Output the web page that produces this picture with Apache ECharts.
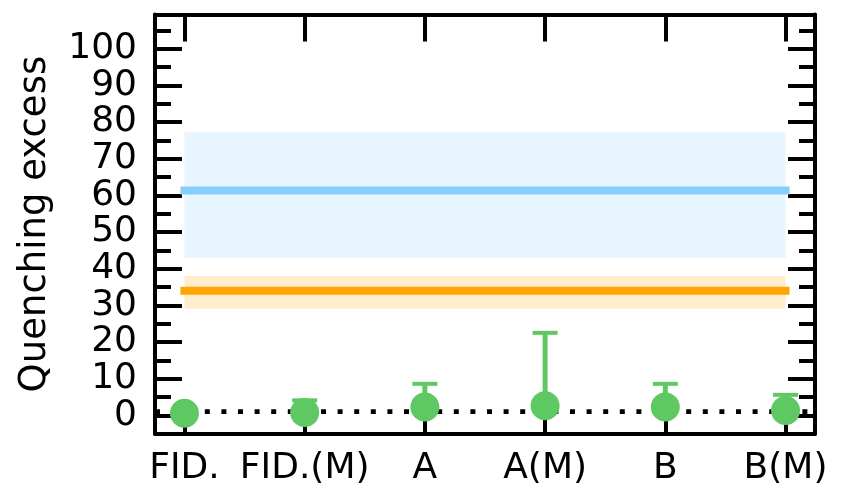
<!DOCTYPE html>
<html>
<head>
<meta charset="utf-8">
<script src="https://cdn.jsdelivr.net/npm/echarts@6/dist/echarts.min.js"></script>
<style>html,body{margin:0;padding:0;background:#fff;}#chart{width:843px;height:500px;}</style>
</head>
<body>
<div id="chart"></div>
<script>
const categories = ['FID.', 'FID.(M)', 'A', 'A(M)', 'B', 'B(M)'];
const categoryPositions = [0, 1, 2, 3, 4, 5];
const quenchValues = [0.6, 0.8, 2.3, 2.6, 2.3, 1.3];
const quenchUpper = [0.6, 4.1, 8.6, 22.5, 8.6, 5.6];
const blueLevel = 61.3;
const blueBand = [43.0, 77.2];
const orangeLevel = 34.0;
const orangeBand = [29.1, 38.0];
const referenceLevel = 1;
const yMajorTicks = [0, 10, 20, 30, 40, 50, 60, 70, 80, 90, 100];
const yMinorTicks = [5, 15, 25, 35, 45, 55, 65, 75, 85, 95, 105];
const yTitle = 'Quenching excess';

const FONT = 'DejaVu Sans';
const xMin = -0.245, xMax = 5.245, yMin = -5.0, yMax = 109.3;
const green = '#5ec962';

function yAxisDef(pos, ticks, len, showLine, labels, name) {
  return {
    type: 'value', position: pos, min: yMin, max: yMax,
    splitLine: {show: false},
    axisLine: {show: showLine, onZero: false, lineStyle: {color: '#000', width: 4}},
    axisTick: {show: true, inside: true, length: len, customValues: ticks, lineStyle: {color: '#000', width: 4}},
    axisLabel: labels ? {show: true, customValues: ticks, margin: 18, color: '#000', fontSize: 36, fontFamily: FONT} : {show: false},
    name: name || '', nameLocation: 'middle', nameGap: 101,
    nameTextStyle: {color: '#000', fontSize: 37, fontFamily: FONT}
  };
}

const chart = echarts.init(document.getElementById('chart'), null, {renderer: 'canvas'});
chart.setOption({
  animation: false,
  backgroundColor: '#fff',
  grid: {left: 155, right: 28, top: 14.5, bottom: 66.3, containLabel: false},
  xAxis: [
    {
      type: 'value', position: 'bottom', min: xMin, max: xMax,
      splitLine: {show: false},
      axisLine: {show: true, onZero: false, lineStyle: {color: '#000', width: 4}},
      axisTick: {show: true, inside: true, length: 27, customValues: categoryPositions, lineStyle: {color: '#000', width: 4}},
      axisLabel: {show: true, customValues: categoryPositions, margin: 17, color: '#000', fontSize: 36, fontFamily: FONT,
        formatter: v => categories[Math.round(v)]}
    },
    {
      type: 'value', position: 'top', min: xMin, max: xMax,
      splitLine: {show: false},
      axisLine: {show: true, onZero: false, lineStyle: {color: '#000', width: 4}},
      axisTick: {show: true, inside: true, length: 27, customValues: categoryPositions, lineStyle: {color: '#000', width: 4}},
      axisLabel: {show: false}
    }
  ],
  yAxis: [
    yAxisDef('left', yMajorTicks, 27, true, true, yTitle),
    yAxisDef('left', yMinorTicks, 16, false, false),
    yAxisDef('right', yMajorTicks, 27, true, false),
    yAxisDef('right', yMinorTicks, 16, false, false)
  ],
  series: [
    {
      type: 'custom', name: 'bands', xAxisIndex: 0, yAxisIndex: 0, z: 1, silent: true,
      data: [
        [categoryPositions[0], categoryPositions[5], blueBand[0], blueBand[1], 0],
        [categoryPositions[0], categoryPositions[5], orangeBand[0], orangeBand[1], 1]
      ],
      renderItem: function (params, api) {
        const p1 = api.coord([api.value(0), api.value(3)]);
        const p2 = api.coord([api.value(1), api.value(2)]);
        return {
          type: 'rect',
          shape: {x: p1[0], y: p1[1], width: p2[0] - p1[0], height: p2[1] - p1[1]},
          style: {fill: api.value(4) === 0 ? '#e7f5fe' : '#ffedcc'}
        };
      }
    },
    {
      type: 'line', name: 'blue', z: 2, symbol: 'none', silent: true,
      data: [[categoryPositions[0], blueLevel], [categoryPositions[5], blueLevel]],
      lineStyle: {color: '#87cefa', width: 8, cap: 'square'}
    },
    {
      type: 'line', name: 'orange', z: 2, symbol: 'none', silent: true,
      data: [[categoryPositions[0], orangeLevel], [categoryPositions[5], orangeLevel]],
      lineStyle: {color: '#ffa500', width: 8, cap: 'square'}
    },
    {
      type: 'line', name: 'ref', z: 3, symbol: 'none', silent: true,
      data: [[xMin, referenceLevel], [xMax, referenceLevel]],
      lineStyle: {color: '#000', width: 4.7, type: [5, 11.6], cap: 'butt'}
    },
    {
      type: 'custom', name: 'err', z: 4, silent: true,
      data: categoryPositions.map((x, i) => [x, quenchValues[i], quenchUpper[i]]),
      renderItem: function (params, api) {
        const pLo = api.coord([api.value(0), api.value(1)]);
        const pHi = api.coord([api.value(0), api.value(2)]);
        return {
          type: 'group',
          children: [
            {type: 'line', shape: {x1: pLo[0], y1: pLo[1], x2: pHi[0], y2: pHi[1]}, style: {stroke: green, lineWidth: 5}},
            {type: 'line', shape: {x1: pHi[0] - 12.5, y1: pHi[1], x2: pHi[0] + 12.5, y2: pHi[1]}, style: {stroke: green, lineWidth: 4}}
          ]
        };
      }
    },
    {
      type: 'scatter', name: 'pts', z: 5, silent: true,
      symbol: 'circle', symbolSize: 29,
      itemStyle: {color: green, opacity: 1},
      data: categoryPositions.map((x, i) => [x, quenchValues[i]])
    }
  ]
});
</script>
</body>
</html>
